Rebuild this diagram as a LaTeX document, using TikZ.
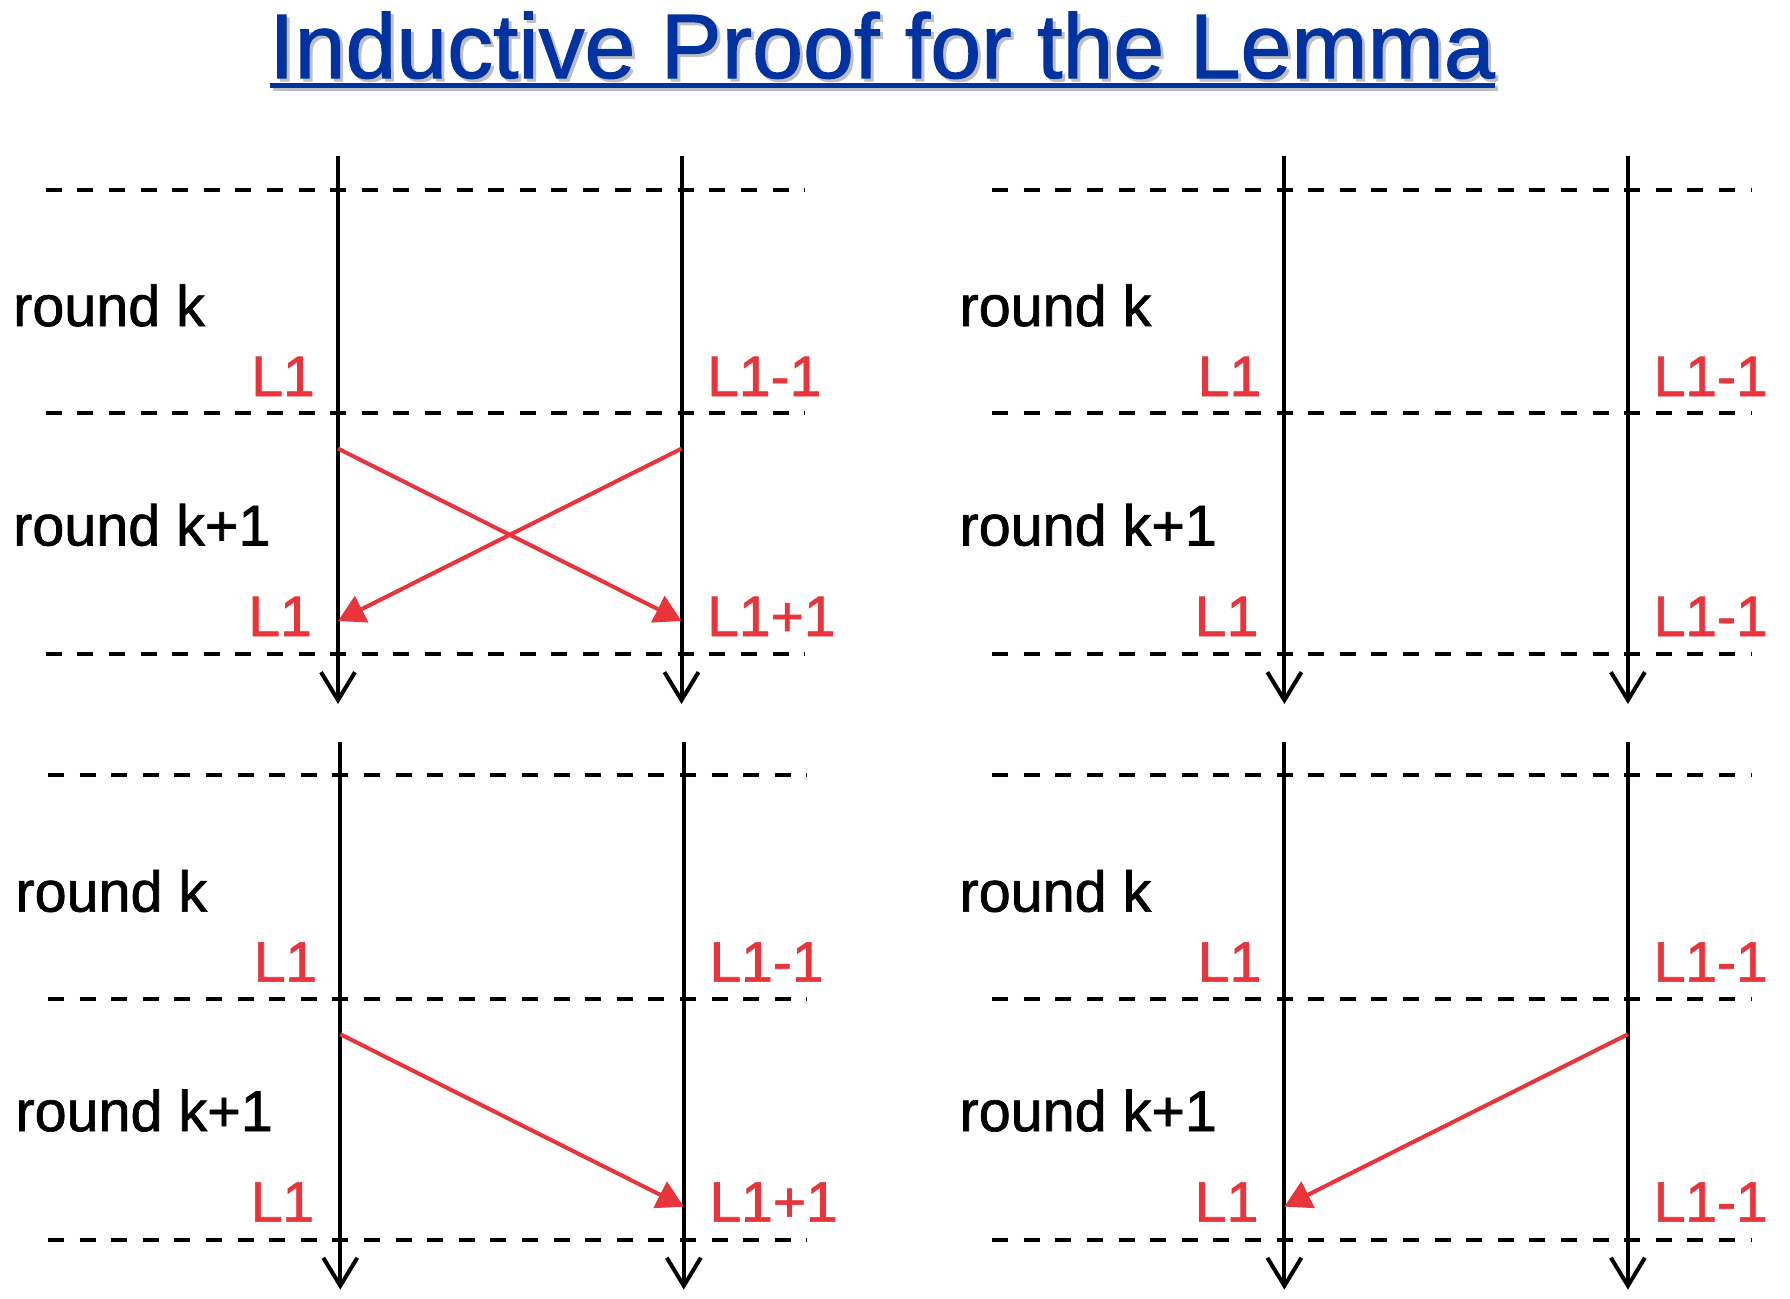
\documentclass[tikz,border=0pt]{standalone}
\usepackage{fontspec}
\setmainfont{Liberation Sans}
\newfontfamily\heavyfont{Liberation Sans}[FakeBold=1.2]
\usetikzlibrary{arrows.meta}
\definecolor{titleblue}{RGB}{0,51,160}
\definecolor{lred}{RGB}{232,52,58}
\tikzset{
 dashline/.style={line width=4pt, dash pattern=on 16pt off 15.6pt},
 timeline/.style={line width=4pt, -{Straight Barb[length=28pt,width=34pt,line width=4pt]}},
 msg/.style={lred, line width=4pt, -{Triangle[length=26.5pt,width=29pt]}},
 roundlbl/.style={anchor=base west, inner sep=0pt, font=\heavyfont\fontsize{57.5}{60}\selectfont},
 redlbl/.style={text=lred, inner sep=0pt, font=\heavyfont\fontsize{57}{60}\selectfont},
 titletext/.style={font=\heavyfont\fontsize{91.5}{100}\selectfont, anchor=base, inner sep=0pt},
}
\newcommand\drawpanel[4]{%
\begin{scope}[shift={(#2,#3)}]
 \coordinate (#1-d1l) at (45.7,189.5); \coordinate (#1-d1r) at (805,189.5);
 \coordinate (#1-d2l) at (45.7,413);   \coordinate (#1-d2r) at (805,413);
 \coordinate (#1-d3l) at (45.7,654);   \coordinate (#1-d3r) at (805,654);
 \draw[dashline] (#1-d1l) -- (#1-d1r);
 \draw[dashline] (#1-d2l) -- (#1-d2r);
 \draw[dashline] (#1-d3l) -- (#1-d3r);
 \coordinate (#1-at) at (338,156); \coordinate (#1-ab) at (338,704);
 \coordinate (#1-bt) at (681.5,156); \coordinate (#1-bb) at (681.5,704);
 \draw[timeline] (#1-at) -- (#1-ab);
 \draw[timeline] (#1-bt) -- (#1-bb);
 \coordinate (#1-as) at (338,448.6); \coordinate (#1-ae) at (338,621);
 \coordinate (#1-bs) at (681.5,448.6); \coordinate (#1-be) at (681.5,621);
 \node[roundlbl] (#1-rk) at (13,326) {round k};
 \node[roundlbl] (#1-rk1) at (13,545.5) {round k+1};
 \node[redlbl, anchor=base east] (#1-ul) at (315,396) {L1};
 \node[redlbl, anchor=base west] (#1-ur) at (707,396) {L1-1};
 \node[redlbl, anchor=base east] (#1-ll) at (312,636) {L1};
 \node[redlbl, anchor=base west] (#1-lr) at (707,636) {#4};
\end{scope}}
\begin{document}
\begin{tikzpicture}[x=1pt,y=-1pt]
\useasboundingbox[fill=white] (0,0) rectangle (1790,1298);
% title with shadow
\node[titletext, text=black!25] (titleshadow) at (885,81) {Inductive Proof for the Lemma};
\coordinate (sulL) at (273,88); \coordinate (sulR) at (1498,88);
\draw[black!25, line width=5pt] (sulL) -- (sulR);
\node[titletext, text=titleblue] (title) at (882,78) {Inductive Proof for the Lemma};
\coordinate (ulL) at (270,85); \coordinate (ulR) at (1495,85);
\draw[titleblue, line width=5pt] (ulL) -- (ulR);
% panels
\drawpanel{tl}{0}{0}{L1+1}
\drawpanel{tr}{946.4}{0}{L1-1}
\drawpanel{bl}{2.3}{585.6}{L1+1}
\drawpanel{br}{946.4}{585.6}{L1-1}
% messages
\draw[msg] (tl-as) -- (tl-be);
\draw[msg] (tl-bs) -- (tl-ae);
\draw[msg] (bl-as) -- (bl-be);
\draw[msg] (br-bs) -- (br-ae);
\end{tikzpicture}
\end{document}
